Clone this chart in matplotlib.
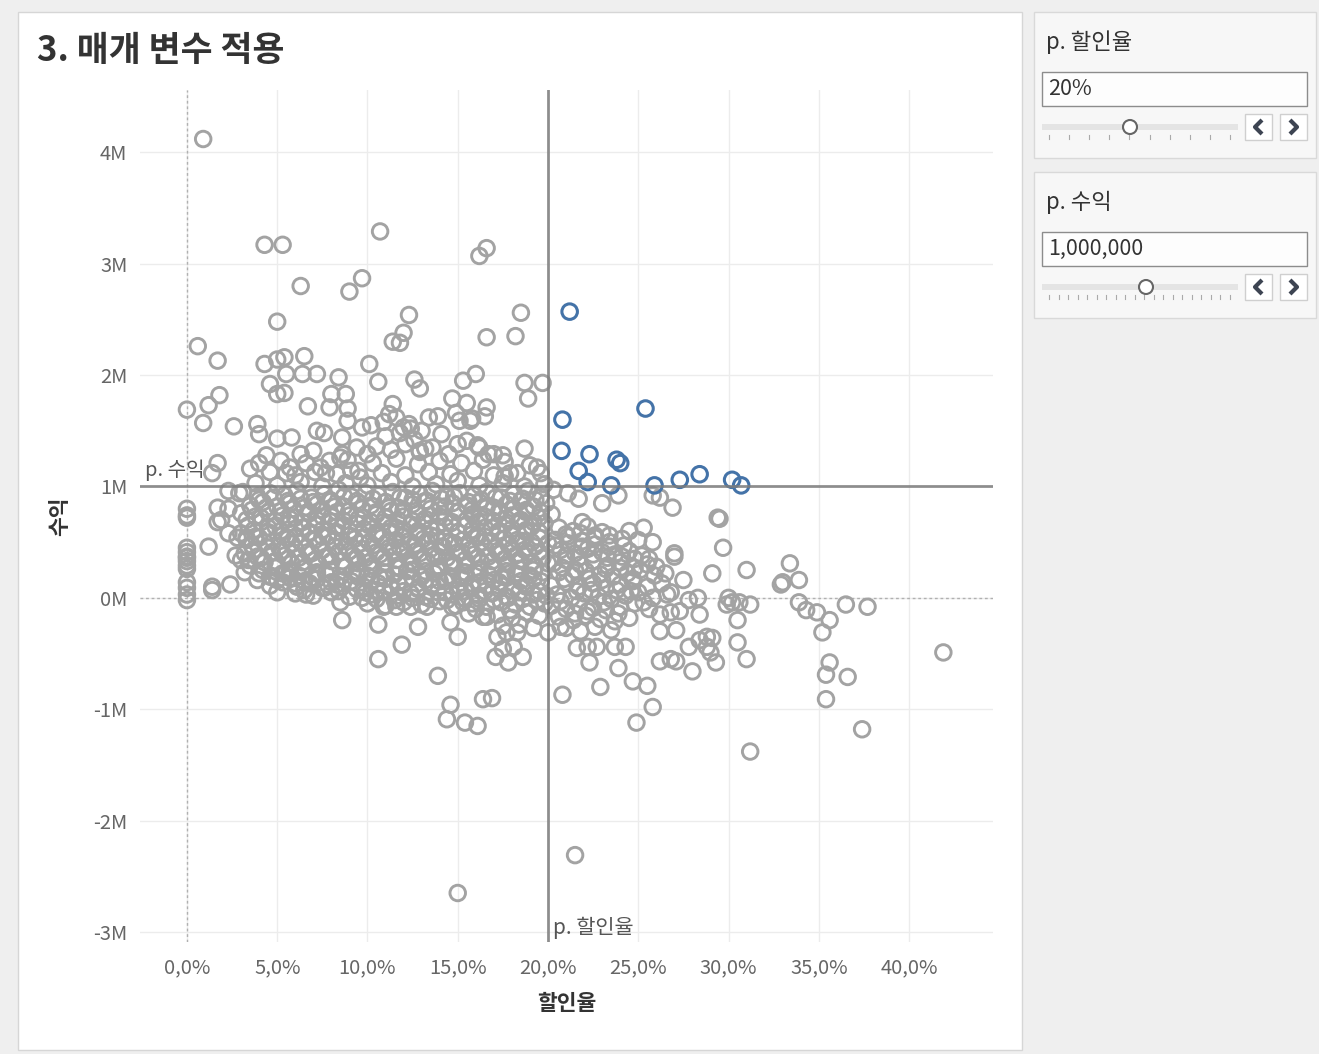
import numpy as np
import matplotlib.pyplot as plt
from matplotlib.patches import Rectangle, Circle

plt.rcParams['font.family'] = ['Noto Sans CJK KR', 'DejaVu Sans']

# 매개 변수
param_discount = 20      # p. 할인율 (%)
param_profit = 1.0       # p. 수익 (M) = 1,000,000

x_ticks = [0, 5, 10, 15, 20, 25, 30, 35, 40]
y_ticks = [-3, -2, -1, 0, 1, 2, 3, 4]

# 할인율(%) / 수익(M) - 1M 위쪽, 할인율 20% 미만
top_discount = [0.9, 4.3, 5.3, 10.7, 9.7, 9.0, 6.3, 16.2, 16.6, 5.0, 12.3, 18.5, 16.6, 18.2, 12.0, 11.4, 11.8,
                0.6, 1.7, 4.3, 5.0, 5.4, 6.5, 4.6, 5.0, 5.4, 5.5, 6.4, 7.2, 10.1, 10.6, 8.4,
                1.8, 1.2, 0.0, 0.9, 2.6, 6.7, 8.0, 8.8, 7.9, 8.9, 8.9, 3.9, 4.0, 7.2, 7.6, 5.0, 5.8,
                8.6, 8.5, 9.4, 9.7, 12.6, 12.9, 13.4, 15.3, 16.0, 14.7, 15.5, 16.6, 15.1, 15.8, 16.5,
                18.7, 19.7, 18.9, 13.9, 11.4, 11.2, 12.0, 12.4, 12.9, 14.1, 15.0, 15.5, 16.2, 16.7, 17.5, 18.7, 17.9, 19.4, 19.6,
                1.7, 1.4, 3.5, 4.0, 4.4, 4.6, 5.2, 5.7, 5.5, 6.3, 6.6, 7.0, 7.4, 7.7, 7.9, 8.6, 9.1, 9.6, 10.0,
                3.8, 5.0, 6.3, 7.5, 8.8, 10.0, 11.3, 12.5, 13.8, 15.0, 16.2, 17.5, 18.7, 19.8,
                6.0, 7.1, 8.3, 9.5, 10.8, 12.1, 13.4, 14.6, 15.9, 17.0, 18.3,
                8.9, 10.3, 11.6, 12.8, 14.0, 15.2, 16.4, 17.6,
                10.2, 10.9, 11.6, 12.3, 13.0, 11.0, 11.8, 12.6, 10.5, 11.3, 12.1, 12.9, 13.6,
                14.9, 15.7, 13.2, 14.5, 17.0, 16.1, 19.0, 17.6]
top_profit = [4.12, 3.17, 3.17, 3.29, 2.87, 2.75, 2.80, 3.07, 3.14, 2.48, 2.54, 2.56, 2.34, 2.35, 2.38, 2.30, 2.29,
              2.26, 2.13, 2.10, 2.14, 2.16, 2.17, 1.92, 1.83, 1.84, 2.01, 2.01, 2.01, 2.10, 1.94, 1.98,
              1.82, 1.73, 1.69, 1.57, 1.54, 1.72, 1.83, 1.83, 1.71, 1.70, 1.59, 1.56, 1.47, 1.50, 1.48, 1.43, 1.44,
              1.44, 1.26, 1.35, 1.53, 1.96, 1.88, 1.62, 1.95, 2.01, 1.79, 1.75, 1.71, 1.59, 1.61, 1.63,
              1.93, 1.93, 1.79, 1.63, 1.74, 1.65, 1.53, 1.52, 1.32, 1.47, 1.38, 1.41, 1.35, 1.29, 1.28, 1.34, 1.12, 1.17, 1.12,
              1.21, 1.12, 1.16, 1.21, 1.28, 1.13, 1.23, 1.17, 1.12, 1.29, 1.21, 1.32, 1.17, 1.12, 1.23, 1.29, 1.14, 1.08, 1.29,
              1.03, 1.01, 1.04, 1.00, 1.03, 1.01, 1.04, 1.00, 1.02, 1.05, 1.01, 1.03, 1.00, 1.02,
              1.10, 1.13, 1.11, 1.14, 1.12, 1.10, 1.13, 1.11, 1.14, 1.10, 1.12,
              1.24, 1.21, 1.25, 1.20, 1.23, 1.21, 1.24, 1.22,
              1.55, 1.58, 1.62, 1.56, 1.50, 1.45, 1.48, 1.42, 1.36, 1.33, 1.38, 1.31, 1.35,
              1.66, 1.59, 1.34, 1.29, 1.29, 1.37, 1.19, 1.09]

# 밀집 구간 (할인율 3~20%, 수익 -0.3~1M)
core_discount = [3.1, 3.9, 4.6, 5.4, 6.1, 6.9, 7.6, 8.4, 9.1, 9.9, 10.6, 11.4, 12.1, 12.9, 13.6, 14.4, 15.1, 15.9, 16.6, 17.4, 18.1, 18.9, 19.6,
                 3.5, 4.2, 5.0, 5.7, 6.5, 7.2, 8.0, 8.7, 9.5, 10.2, 11.0, 11.7, 12.5, 13.2, 14.0, 14.7, 15.5, 16.2, 17.0, 17.7, 18.5, 19.2, 19.9,
                 3.0, 3.8, 4.5, 5.3, 6.0, 6.8, 7.5, 8.3, 9.0, 9.8, 10.5, 11.3, 12.0, 12.8, 13.5, 14.3, 15.0, 15.8, 16.5, 17.3, 18.0, 18.8, 19.5, 20.2,
                 3.4, 4.1, 4.9, 5.6, 6.4, 7.1, 7.9, 8.6, 9.4, 10.1, 10.9, 11.6, 12.4, 13.1, 13.9, 14.6, 15.4, 16.1, 16.9, 17.6, 18.4, 19.1, 19.8,
                 3.0, 3.8, 4.5, 5.3, 6.0, 6.8, 7.5, 8.3, 9.0, 9.8, 10.5, 11.3, 12.0, 12.8, 13.5, 14.3, 15.0, 15.8, 16.5, 17.3, 18.0, 18.8, 19.5,
                 3.6, 4.3, 5.1, 5.8, 6.6, 7.3, 8.1, 8.8, 9.6, 10.3, 11.1, 11.8, 12.6, 13.3, 14.1, 14.8, 15.6, 16.3, 17.1, 17.8, 18.6, 19.3, 20.0,
                 3.2, 3.9, 4.7, 5.4, 6.2, 6.9, 7.7, 8.4, 9.2, 9.9, 10.7, 11.4, 12.2, 12.9, 13.7, 14.4, 15.2, 15.9, 16.7, 17.4, 18.2, 18.9, 19.7,
                 3.5, 4.3, 5.0, 5.8, 6.5, 7.3, 8.0, 8.8, 9.5, 10.3, 11.0, 11.8, 12.5, 13.3, 14.0, 14.8, 15.5, 16.3, 17.0, 17.8, 18.5, 19.3, 20.0,
                 4.0, 4.7, 5.5, 6.2, 7.0, 7.7, 8.5, 9.2, 10.0, 10.7, 11.5, 12.2, 13.0, 13.7, 14.5, 15.2, 16.0, 16.7, 17.5, 18.2, 19.0, 19.7,
                 4.6, 5.3, 6.1, 6.8, 7.6, 8.3, 9.1, 9.8, 10.6, 11.3, 12.1, 12.8, 13.6, 14.3, 15.1, 15.8, 16.6, 17.3, 18.1, 18.8, 19.6,
                 6.0, 7.0, 8.0, 9.0, 10.2, 10.9, 11.7, 12.4, 13.2, 13.9, 14.7, 15.4, 16.2, 16.9, 17.7, 18.4, 19.2, 19.9,
                 10.0, 11.0, 12.0, 13.0, 14.0, 14.9, 15.8, 16.6, 17.4, 18.2, 19.0, 19.8,
                 15.6, 16.4, 17.2, 18.0, 18.8, 19.5, 17.5, 18.4, 19.2]
core_profit = [0.95, 0.91, 0.94, 0.92, 0.96, 0.90, 0.93, 0.97, 0.91, 0.94, 0.92, 0.95, 0.90, 0.93, 0.96, 0.91, 0.94, 0.92, 0.95, 0.90, 0.93, 0.96, 0.91,
               0.83, 0.86, 0.82, 0.85, 0.81, 0.84, 0.87, 0.82, 0.85, 0.83, 0.86, 0.81, 0.84, 0.87, 0.82, 0.85, 0.83, 0.86, 0.81, 0.84, 0.87, 0.82, 0.85,
               0.76, 0.73, 0.77, 0.74, 0.72, 0.76, 0.73, 0.77, 0.74, 0.72, 0.75, 0.78, 0.73, 0.76, 0.74, 0.72, 0.77, 0.75, 0.73, 0.76, 0.74, 0.77, 0.72, 0.75,
               0.65, 0.68, 0.64, 0.67, 0.63, 0.66, 0.69, 0.64, 0.67, 0.65, 0.68, 0.63, 0.66, 0.69, 0.64, 0.67, 0.65, 0.68, 0.63, 0.66, 0.69, 0.64, 0.67,
               0.58, 0.55, 0.59, 0.56, 0.54, 0.58, 0.55, 0.59, 0.56, 0.54, 0.57, 0.60, 0.55, 0.58, 0.56, 0.54, 0.59, 0.57, 0.55, 0.58, 0.56, 0.59, 0.54,
               0.47, 0.50, 0.46, 0.49, 0.45, 0.48, 0.51, 0.46, 0.49, 0.47, 0.50, 0.45, 0.48, 0.51, 0.46, 0.49, 0.47, 0.50, 0.45, 0.48, 0.51, 0.46, 0.49,
               0.40, 0.37, 0.41, 0.38, 0.36, 0.40, 0.37, 0.41, 0.38, 0.36, 0.39, 0.42, 0.37, 0.40, 0.38, 0.36, 0.41, 0.39, 0.37, 0.40, 0.38, 0.41, 0.36,
               0.29, 0.32, 0.28, 0.31, 0.27, 0.30, 0.33, 0.28, 0.31, 0.29, 0.32, 0.27, 0.30, 0.33, 0.28, 0.31, 0.29, 0.32, 0.27, 0.30, 0.33, 0.28, 0.31,
               0.22, 0.19, 0.23, 0.20, 0.18, 0.22, 0.19, 0.23, 0.20, 0.18, 0.21, 0.24, 0.19, 0.22, 0.20, 0.18, 0.23, 0.21, 0.19, 0.22, 0.20, 0.23,
               0.11, 0.14, 0.10, 0.13, 0.09, 0.12, 0.15, 0.10, 0.13, 0.11, 0.14, 0.09, 0.12, 0.15, 0.10, 0.13, 0.11, 0.14, 0.09, 0.12, 0.15,
               0.04, 0.02, 0.05, 0.01, 0.03, 0.06, 0.02, 0.04, 0.01, 0.05, 0.03, 0.06, 0.02, 0.04, 0.01, 0.05, 0.03, 0.02,
               -0.05, -0.07, -0.04, -0.06, -0.03, -0.07, -0.05, -0.08, -0.04, -0.06, -0.08, -0.05,
               -0.14, -0.17, -0.15, -0.18, -0.13, -0.16, -0.25, -0.24, -0.27]

# 밀집 구간 사이사이 (겹쳐 보이는 점)
mid_discount = [4.0, 4.8, 5.6, 6.3, 7.0, 7.9, 8.7, 9.4, 10.3, 11.0, 11.8, 12.5, 13.3, 14.1, 14.8, 15.6, 16.3, 17.1, 17.9, 18.6, 19.3,
                3.6, 4.4, 5.2, 5.9, 6.7, 7.5, 8.2, 9.0, 9.7, 10.5, 11.2, 12.0, 12.7, 13.5, 14.3, 15.0, 15.8, 16.6, 17.3, 18.1, 18.8, 19.6,
                3.3, 4.1, 4.9, 5.7, 6.4, 7.2, 8.0, 8.7, 9.5, 10.2, 11.0, 11.7, 12.5, 13.2, 14.0, 14.7, 15.5, 16.2, 17.0, 17.7, 18.5, 19.2,
                3.7, 4.5, 5.2, 6.0, 6.8, 7.5, 8.3, 9.0, 9.8, 10.5, 11.3, 12.0, 12.8, 13.5, 14.3, 15.0, 15.8, 16.5, 17.3, 18.0, 18.8, 19.5,
                3.3, 4.0, 4.8, 5.6, 6.3, 7.1, 7.8, 8.6, 9.3, 10.1, 10.8, 11.6, 12.3, 13.1, 13.8, 14.6, 15.3, 16.1, 16.8, 17.6, 18.3, 19.1,
                3.7, 4.5, 5.2, 6.0, 6.7, 7.5, 8.2, 9.0, 9.7, 10.5, 11.2, 12.0, 12.7, 13.5, 14.2, 15.0, 15.7, 16.5, 17.2, 18.0, 18.7, 19.5,
                3.4, 4.1, 4.9, 5.6, 6.4, 7.1, 7.9, 8.6, 9.4, 10.1, 10.9, 11.6, 12.4, 13.1, 13.9, 14.6, 15.4, 16.1, 16.9, 17.6, 18.4, 19.1,
                4.2, 4.9, 5.7, 6.4, 7.2, 7.9, 8.7, 9.4, 10.2, 10.9, 11.7, 12.4, 13.2, 13.9, 14.7, 15.4, 16.2, 16.9, 17.7, 18.4, 19.2,
                5.0, 5.7, 6.5, 7.2, 8.0, 8.7, 9.5, 10.2, 11.0, 11.7, 12.5, 13.2, 14.0, 14.7, 15.5, 16.2, 17.0, 17.7, 18.5, 19.2,
                6.5, 7.5, 8.4, 9.4, 10.5, 11.3, 12.0, 12.8, 13.5, 14.3, 15.0, 15.8, 16.5, 17.3, 18.0, 18.8, 19.5, 9.9,
                10.5, 11.5, 12.5, 13.5, 14.4, 15.3, 16.2, 17.0, 17.8, 18.6, 19.4, 16.0, 17.9]
mid_profit = [0.88, 0.90, 0.87, 0.89, 0.86, 0.88, 0.91, 0.87, 0.89, 0.86, 0.90, 0.88, 0.87, 0.89, 0.91, 0.86, 0.88, 0.90, 0.87, 0.89, 0.88,
              0.79, 0.81, 0.78, 0.80, 0.77, 0.79, 0.82, 0.78, 0.80, 0.77, 0.81, 0.79, 0.78, 0.80, 0.82, 0.77, 0.79, 0.81, 0.78, 0.80, 0.79, 0.77,
              0.70, 0.72, 0.69, 0.71, 0.68, 0.70, 0.73, 0.69, 0.71, 0.68, 0.72, 0.70, 0.69, 0.71, 0.73, 0.68, 0.70, 0.72, 0.69, 0.71, 0.70, 0.68,
              0.61, 0.63, 0.60, 0.62, 0.59, 0.61, 0.64, 0.60, 0.62, 0.59, 0.63, 0.61, 0.60, 0.62, 0.64, 0.59, 0.61, 0.63, 0.60, 0.62, 0.61, 0.59,
              0.52, 0.54, 0.51, 0.53, 0.50, 0.52, 0.55, 0.51, 0.53, 0.50, 0.54, 0.52, 0.51, 0.53, 0.55, 0.50, 0.52, 0.54, 0.51, 0.53, 0.52, 0.50,
              0.43, 0.45, 0.42, 0.44, 0.41, 0.43, 0.46, 0.42, 0.44, 0.41, 0.45, 0.43, 0.42, 0.44, 0.46, 0.41, 0.43, 0.45, 0.42, 0.44, 0.43, 0.41,
              0.34, 0.36, 0.33, 0.35, 0.32, 0.34, 0.37, 0.33, 0.35, 0.32, 0.36, 0.34, 0.33, 0.35, 0.37, 0.32, 0.34, 0.36, 0.33, 0.35, 0.34, 0.32,
              0.25, 0.27, 0.24, 0.26, 0.23, 0.25, 0.28, 0.24, 0.26, 0.23, 0.27, 0.25, 0.24, 0.26, 0.28, 0.23, 0.25, 0.27, 0.24, 0.26, 0.25,
              0.16, 0.18, 0.15, 0.17, 0.14, 0.16, 0.19, 0.15, 0.17, 0.14, 0.18, 0.16, 0.15, 0.17, 0.19, 0.14, 0.16, 0.18, 0.15, 0.17,
              0.07, 0.09, 0.06, 0.08, 0.07, 0.09, 0.06, 0.08, 0.10, 0.05, 0.07, 0.09, 0.06, 0.08, 0.07, 0.10, 0.06, 0.05,
              -0.01, -0.02, 0.00, -0.01, -0.02, 0.00, -0.01, -0.02, 0.00, -0.01, -0.02, -0.10, -0.11]

# 왼쪽 (할인율 0~9%) 흩어진 점
left_discount = [2.3, 2.9, 1.7, 2.3, 1.2, 1.7, 2.3, 2.8, 3.3, 2.7, 3.0, 3.2, 3.9, 4.6, 5.3, 6.0, 7.2,
                 1.4, 1.4, 2.4, 5.0, 6.6, 7.8, 8.6, 8.5, 8.6, 9.7, 1.9,
                 0.0, 0.0, 0.0, 0.0, 0.0, 0.0, 0.0, 0.0, 0.0, 0.0, 0.0, 0.0, 0.0, 0.0]
left_profit = [0.96, 0.94, 0.81, 0.80, 0.46, 0.68, 0.58, 0.54, 0.54, 0.38, 0.34, 0.23, 0.16, 0.19, 0.22, 0.13, 0.22,
               0.10, 0.07, 0.12, 0.05, 0.03, 0.12, 0.10, -0.04, -0.20, 0.00, 0.70,
               0.80, 0.74, 0.72, 0.45, 0.41, 0.37, 0.33, 0.29, 0.26, 0.14, 0.09, 0.03, -0.02, 0.36]

# 아래쪽 (손실 구간)
low_discount = [10.6, 11.9, 12.8, 10.6, 13.9, 14.6, 15.0, 16.6, 17.2, 17.7, 18.3, 17.1, 17.8, 18.6, 17.5, 18.1,
                20.0, 20.7, 10.9, 11.6, 12.4, 13.3, 14.7, 15.3,
                14.6, 14.4, 15.4, 16.1, 16.4, 16.9, 15.0, 21.5, 20.8]
low_profit = [-0.24, -0.42, -0.26, -0.55, -0.70, -0.22, -0.35, -0.17, -0.35, -0.31, -0.31, -0.53, -0.58, -0.53, -0.46, -0.44,
              -0.31, -0.26, -0.08, -0.08, -0.08, -0.08, -0.08, -0.04,
              -0.96, -1.09, -1.12, -1.15, -0.91, -0.90, -2.65, -2.31, -0.87]

# 오른쪽 (할인율 20% 이상)
right_discount = [21.2, 25.4, 20.8, 20.75, 22.3, 21.7, 23.8, 24.0, 22.2, 23.5, 25.9, 27.3, 28.4, 30.2, 30.7,
                  21.1, 21.7, 23.0, 23.9, 25.8, 26.2, 26.9, 29.4, 29.5, 29.7, 29.1, 31.0,
                  33.4, 33.0, 32.9, 33.9, 33.9, 34.3, 34.9, 35.6, 35.2, 36.5, 37.7, 41.9,
                  35.6, 35.4, 36.6, 35.4, 37.4, 31.2, 30.0, 30.2, 30.6, 31.2, 29.9, 30.5, 30.5, 31.0,
                  29.3, 28.0, 28.4, 28.8, 29.1, 28.8, 29.0, 26.2, 26.8, 27.1, 26.2, 27.1, 27.8,
                  23.9, 24.7, 25.5, 22.9, 25.8, 24.9, 22.3, 21.6, 22.2, 22.7, 23.7, 24.3,
                  25.3, 25.8, 27.0, 27.0, 27.5, 28.3, 28.4, 26.8, 27.3, 26.2, 21.9, 23.4,
                  26.0, 26.5, 25.6, 26.8, 27.8, 24.5, 25.0, 24.2, 20.3,
                  20.6, 21.4, 22.2, 23.0,
                  20.4, 21.1, 21.9, 22.6, 23.4, 24.1,
                  20.7, 21.5, 22.2, 23.0, 23.7, 24.5, 25.2,
                  20.3, 21.0, 21.8, 22.5, 23.3, 24.0, 24.8, 25.5,
                  20.6, 21.4, 22.1, 22.9, 23.6, 24.4, 25.1, 25.9,
                  20.2, 21.0, 21.7, 22.5, 23.2, 24.0, 24.7, 25.5, 26.3,
                  20.5, 21.3, 22.0, 22.8, 23.5, 24.3, 25.0, 25.8, 26.6,
                  20.2, 21.0, 21.7, 22.5, 23.2, 24.0, 24.8, 25.6,
                  20.6, 21.4, 22.1, 22.9, 23.7, 24.5,
                  21.0, 21.8, 22.6, 23.5,
                  21.0, 21.8, 22.6, 23.4,
                  20.4, 21.1, 21.9, 22.6, 23.3, 24.1, 24.8,
                  21.0, 21.7, 22.5, 23.2, 24.0, 24.7,
                  20.8, 21.5, 22.3, 23.0, 23.8, 24.6, 25.3,
                  20.9, 21.6, 22.4, 23.1, 23.9, 20.7, 21.5, 22.2]
right_profit = [2.57, 1.70, 1.60, 1.32, 1.29, 1.14, 1.24, 1.21, 1.04, 1.01, 1.01, 1.06, 1.11, 1.06, 1.01,
                0.94, 0.89, 0.85, 0.92, 0.92, 0.90, 0.81, 0.72, 0.71, 0.45, 0.22, 0.25,
                0.31, 0.14, 0.12, 0.16, -0.04, -0.11, -0.13, -0.20, -0.31, -0.06, -0.08, -0.49,
                -0.58, -0.69, -0.71, -0.91, -1.18, -1.38, 0.00, -0.04, -0.04, -0.06, -0.06, -0.20, -0.40, -0.55,
                -0.58, -0.66, -0.38, -0.35, -0.36, -0.44, -0.49, -0.57, -0.55, -0.57, -0.30, -0.29, -0.44,
                -0.63, -0.75, -0.79, -0.80, -0.98, -1.12, -0.58, -0.45, -0.44, -0.44, -0.44, -0.44,
                0.63, 0.50, 0.40, 0.37, 0.16, 0.00, -0.15, -0.13, -0.12, -0.15, 0.68, 0.56,
                0.28, 0.22, 0.35, 0.05, -0.02, 0.60, 0.52, 0.47, 0.97,
                0.63, 0.60, 0.64, 0.59,
                0.52, 0.55, 0.51, 0.54, 0.50, 0.53,
                0.43, 0.40, 0.44, 0.41, 0.39, 0.42, 0.38,
                0.31, 0.34, 0.30, 0.33, 0.29, 0.32, 0.35, 0.30,
                0.23, 0.20, 0.24, 0.21, 0.19, 0.22, 0.25, 0.20,
                0.11, 0.14, 0.10, 0.13, 0.09, 0.12, 0.15, 0.10, 0.13,
                0.03, 0.00, 0.04, 0.01, -0.01, 0.02, 0.05, 0.00, 0.03,
                -0.07, -0.10, -0.06, -0.09, -0.11, -0.08, -0.05, -0.10,
                -0.17, -0.20, -0.16, -0.19, -0.21, -0.18,
                -0.27, -0.30, -0.26, -0.29,
                0.57, 0.58, 0.56, 0.46,
                0.47, 0.49, 0.46, 0.48, 0.36, 0.37, 0.27,
                0.38, 0.36, 0.39, 0.26, 0.27, 0.17,
                0.27, 0.25, 0.17, 0.16, 0.07, 0.06, -0.04,
                0.17, 0.06, 0.07, -0.04, -0.14, -0.03, -0.14, -0.12]

discount = np.array(top_discount + core_discount + mid_discount + left_discount + low_discount + right_discount)
profit = np.array(top_profit + core_profit + mid_profit + left_profit + low_profit + right_profit)
hit = (discount >= param_discount) & (profit >= param_profit)

W, H = 1319, 1054
fig = plt.figure(figsize=(W / 100, H / 100), dpi=100)
fig.patch.set_facecolor('#efefef')

# dashboard background (pixel coords)
bg = fig.add_axes([0, 0, 1, 1], zorder=0)
bg.set_xlim(0, W)
bg.set_ylim(H, 0)
bg.axis('off')
bg.add_patch(Rectangle((18, 12), 1004, 1038, fc='white', ec='#d6d6d6', lw=1))
bg.text(37, 50, '3. 매개 변수 적용', fontsize=25, fontweight='bold', color='#333333', va='center')


def param_card(top, title, value, knob_x, n_ticks):
    bg.add_patch(Rectangle((1034, top), 282, 146, fc='#f7f7f7', ec='#d9d9d9', lw=1))
    bg.text(1046, top + 30, title, fontsize=16, color='#333333', va='center')
    bg.add_patch(Rectangle((1042, top + 60), 265, 34, fc='#fdfdfd', ec='#8c8c8c', lw=1))
    bg.text(1048, top + 77, value, fontsize=15.5, color='#333333', va='center')
    ty = top + 115
    bg.add_patch(Rectangle((1042, ty - 3), 196, 6, fc='#e4e4e4', ec='none'))
    for tx in np.linspace(1049, 1230, n_ticks):
        bg.plot([tx, tx], [ty + 8, ty + 12], color='#aaaaaa', lw=0.8)
    bg.add_patch(Circle((knob_x, ty), 7, fc='white', ec='#666666', lw=1.5, zorder=5))
    for bx, d in [(1245, -1), (1280, 1)]:
        bg.add_patch(Rectangle((bx, ty - 13), 27, 26, fc='white', ec='#cfcfcf', lw=1))
        cx = bx + 13.5
        bg.plot([cx - 3.5 * d, cx + 3.5 * d, cx - 3.5 * d], [ty - 7, ty, ty + 7],
                color='#3d4452', lw=3, solid_capstyle='butt')


param_card(12, 'p. 할인율', '20%', 1130, 10)
param_card(172, 'p. 수익', '1,000,000', 1146, 20)

# main scatter
ax = fig.add_axes([140 / W, 1 - 942 / H, 853 / W, 852 / H], zorder=1)
ax.set_facecolor('white')
ax.scatter(discount[~hit], profit[~hit], s=125, facecolors='none', edgecolors='#a3a3a3',
           linewidths=2.1, zorder=2)
ax.scatter(discount[hit], profit[hit], s=125, facecolors='none', edgecolors='#4473a8',
           linewidths=2.2, zorder=3)

ax.set_xlim(-2.6, 44.65)
ax.set_ylim(-3.09, 4.56)
ax.set_xticks(x_ticks)
ax.set_xticklabels([f'{v:.1f}%'.replace('.', ',') for v in x_ticks])
ax.set_yticks(y_ticks)
ax.set_yticklabels([f'{v}M' for v in y_ticks])
ax.tick_params(length=0, labelsize=14.5, labelcolor='#666666')
ax.tick_params(axis='y', pad=9)
ax.tick_params(axis='x', pad=11)
for s in ax.spines.values():
    s.set_visible(False)
ax.grid(True, color='#ececec', lw=1, zorder=0)
ax.set_axisbelow(True)
ax.axvline(0, color='#b0b0b0', lw=1, ls=(0, (2, 2)), zorder=1)
ax.axhline(0, color='#b0b0b0', lw=1, ls=(0, (2, 2)), zorder=1)

# reference lines (parameters)
ax.axvline(param_discount, color='#7d7d7d', lw=2, alpha=0.85, zorder=4)
ax.axhline(param_profit, color='#7d7d7d', lw=2, alpha=0.85, zorder=4)
ax.text(param_discount + 0.3, -2.96, 'p. 할인율', fontsize=15, color='#555555', va='center', zorder=5)
ax.text(-2.35, param_profit + 0.15, 'p. 수익', fontsize=14.5, color='#555555', va='center', zorder=5)

ax.set_xlabel('할인율', fontsize=15.5, color='#333333', fontweight='bold')
ax.xaxis.set_label_coords(0.5, (942 - 1004) / 852)
ax.xaxis.label.set_verticalalignment('center')
ax.set_ylabel('수익', fontsize=15.5, color='#333333', fontweight='bold')
ax.yaxis.set_label_coords((60 - 140) / 853, 0.5)
ax.yaxis.label.set_verticalalignment('center')

fig.savefig('out.png', dpi=100, facecolor=fig.get_facecolor())
